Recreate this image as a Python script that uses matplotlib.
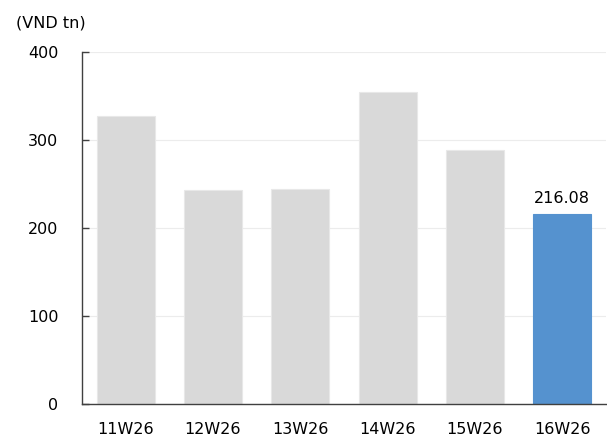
import matplotlib
matplotlib.use("Agg")
import matplotlib.pyplot as plt
import numpy as np

weeks = ['11W26', '12W26', '13W26', '14W26', '15W26', '16W26']
values = [327.2, 243.0, 244.1, 354.0, 288.3, 216.08]

GREY = '#d9d9d9'
BLUE = '#5592cf'


def main():
    plt.rcParams['font.family'] = ['DejaVu Sans']
    fig = plt.figure(figsize=(6.07, 4.42), dpi=100)
    ax = fig.add_axes([82 / 607, 38 / 442, 524 / 607, 352 / 442])

    x = np.arange(len(weeks))
    colors = [GREY] * (len(weeks) - 1) + [BLUE]
    edges = ['#e8e8e8'] * (len(weeks) - 1) + [BLUE]
    ax.bar(x, values, width=0.667, color=colors, edgecolor=edges, linewidth=0.8, zorder=2)

    ax.set_xlim(-0.5, len(weeks) - 0.5)
    ax.set_ylim(0, 400)
    ax.set_yticks([0, 100, 200, 300, 400])
    ax.set_xticks(x)
    ax.set_xticklabels(weeks)

    ax.yaxis.grid(True, color='#ececec', linewidth=0.8, zorder=0)
    ax.set_axisbelow(True)

    for s in ['top', 'right']:
        ax.spines[s].set_visible(False)
    ax.spines['left'].set_color('#404040')
    ax.spines['bottom'].set_color('#404040')
    ax.spines['left'].set_linewidth(1.0)
    ax.spines['bottom'].set_linewidth(1.0)

    ax.tick_params(axis='y', direction='in', length=5, width=1.0, color='#404040',
                   pad=17, labelsize=11.5)
    ax.tick_params(axis='x', length=0, pad=13, labelsize=11.5)

    ax.annotate(f'{values[-1]:.2f}', xy=(x[-1], values[-1]), xytext=(0, 6),
                textcoords='offset points', ha='center', va='bottom', fontsize=11.5)

    fig.text(16 / 607, 1 - 23 / 442, '(VND tn)', ha='left', va='center', fontsize=11.5)

    fig.savefig('out.png', dpi=100)


if __name__ == "__main__":
    main()
